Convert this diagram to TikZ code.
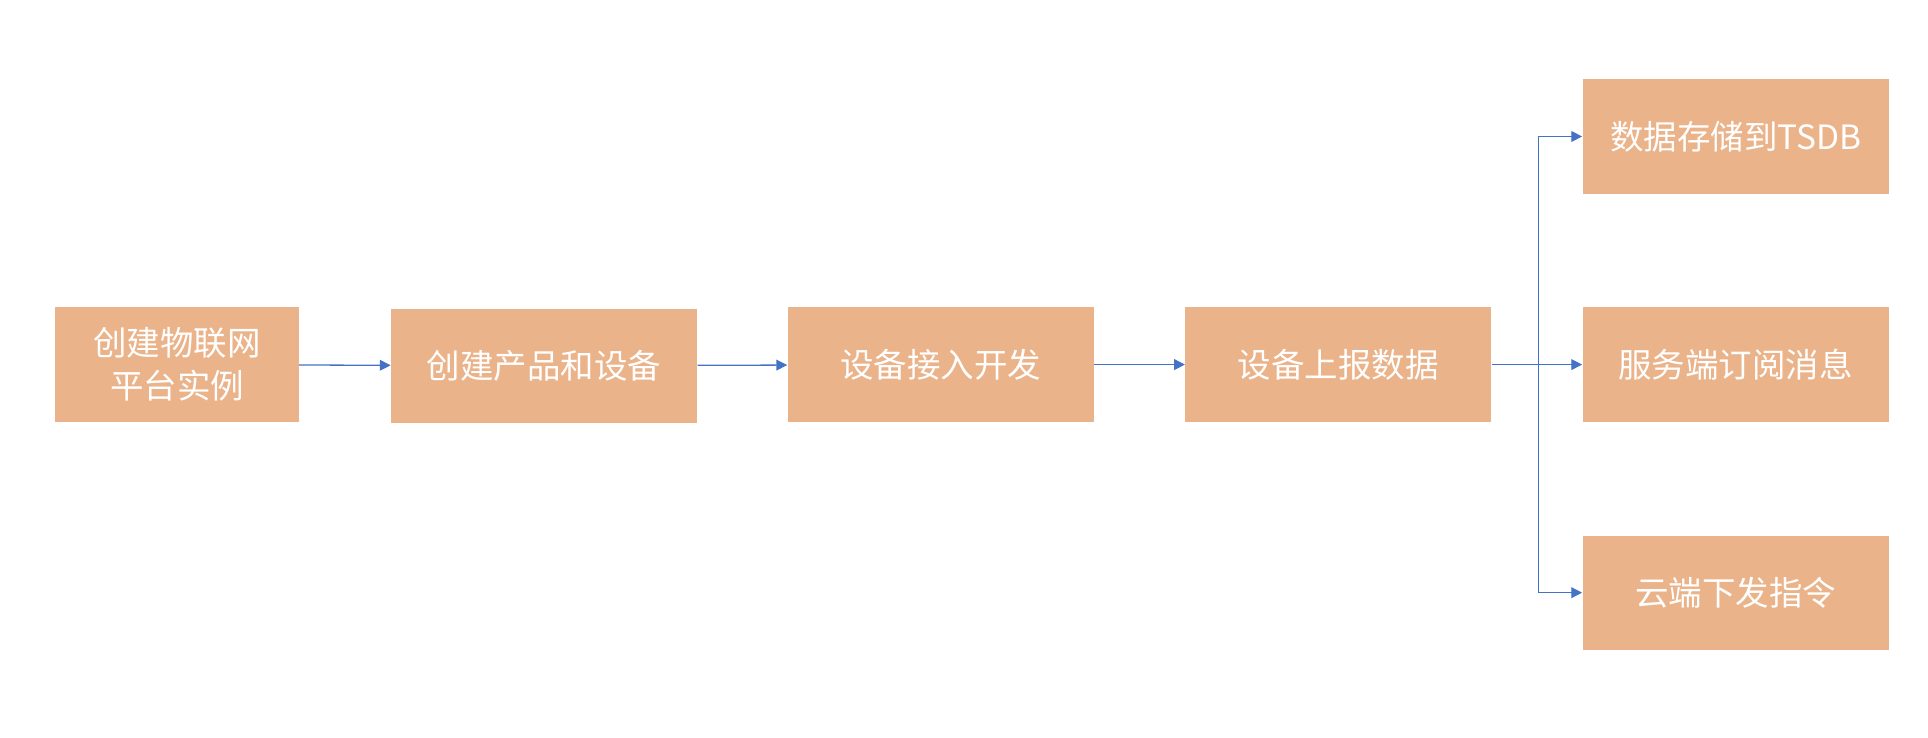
\documentclass[tikz,border=0pt]{standalone}
\usepackage{fontspec}
\setmainfont{Noto Sans CJK SC}
\usetikzlibrary{arrows.meta}

\begin{document}
\begin{tikzpicture}[x=0.02cm,y=-0.02cm]
\tikzstyle{stepbox}=[fill={rgb,255:red,234;green,179;blue,138},text=white,
  minimum width=4.98cm,minimum height=1.86cm,inner sep=0pt,align=center,
  font=\fontsize{15.5}{20}\selectfont]
\tikzstyle{flow}=[-{Triangle[length=5pt,width=5pt]},draw={rgb,255:red,68;green,114;blue,196},line width=0.6pt]

\useasboundingbox (0,0) rectangle (1568,600);

%% main line
\node [stepbox,minimum width=3.96cm] (inst) at (144,296.5) {创建物联网\\平台实例};
\node [stepbox] (prod) at (442.5,297.5) {创建产品和设备};
\node [stepbox] (dev)  at (765,296.5) {设备接入开发};
\node [stepbox] (up)   at (1088.5,296.5) {设备上报数据};

%% targets
\node [stepbox] (tsdb) at (1411.5,111) {数据存储到TSDB};
\node [stepbox] (sub)  at (1411.5,296.5) {服务端订阅消息};
\node [stepbox] (cmd)  at (1411.5,482) {云端下发指令};

\draw[flow] (inst) -- (prod);
\draw[flow] (prod) -- (dev);
\draw[flow] (dev) -- (up);

\coordinate (fork) at (1251,296.5);
\draw[flow] (up) -- (sub);
\draw[flow] (fork) |- (tsdb);
\draw[flow] (fork) |- (cmd);

\end{tikzpicture}
\end{document}
